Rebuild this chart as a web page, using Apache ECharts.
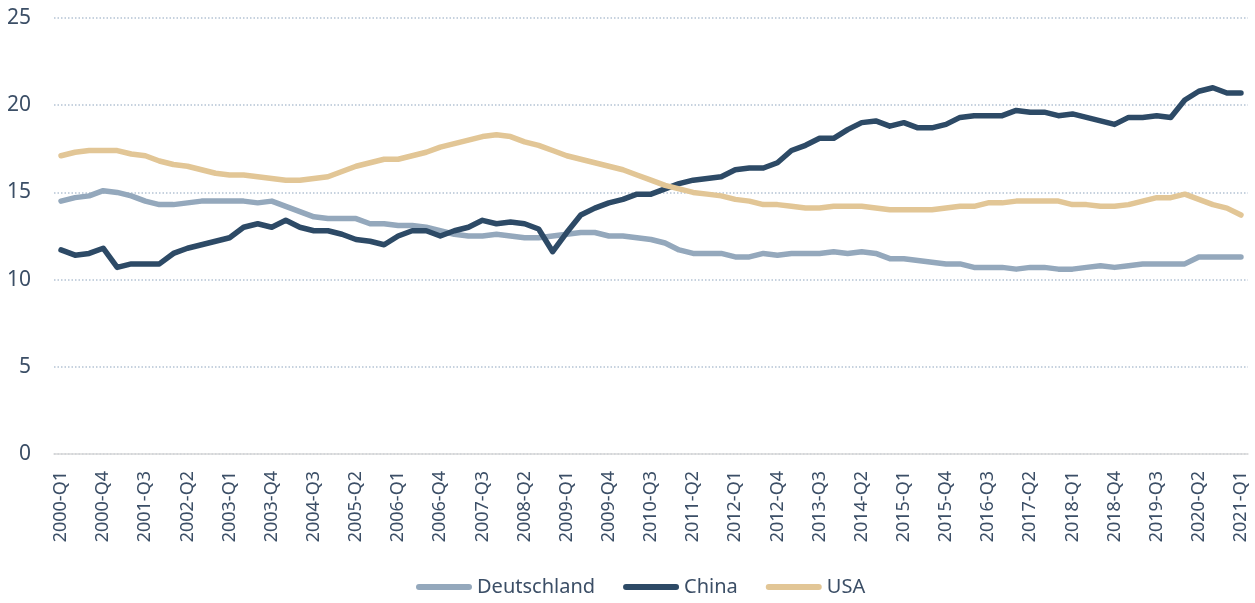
<!DOCTYPE html>
<html>
<head>
<meta charset="utf-8">
<script src="https://cdn.jsdelivr.net/npm/echarts@6/dist/echarts.min.js"></script>
<style>
  html, body { margin: 0; padding: 0; background: #fff; }
  #chart { width: 1255px; height: 603px; }
</style>
</head>
<body>
<div id="chart"></div>
<script>
// Quartale 2000-Q1 .. 2021-Q1
const quarters = [];
for (let y = 2000; y <= 2021; y++) {
  for (let q = 1; q <= 4; q++) {
    if (y === 2021 && q > 1) break;
    quarters.push(y + '-Q' + q);
  }
}

const deutschland = [
  14.5, 14.7, 14.8, 15.1, 15.0, 14.8, 14.5, 14.3, 14.3, 14.4,
  14.5, 14.5, 14.5, 14.5, 14.4, 14.5, 14.2, 13.9, 13.6, 13.5,
  13.5, 13.5, 13.2, 13.2, 13.1, 13.1, 13.0, 12.8, 12.6, 12.5,
  12.5, 12.6, 12.5, 12.4, 12.4, 12.5, 12.6, 12.7, 12.7, 12.5,
  12.5, 12.4, 12.3, 12.1, 11.7, 11.5, 11.5, 11.5, 11.3, 11.3,
  11.5, 11.4, 11.5, 11.5, 11.5, 11.6, 11.5, 11.6, 11.5, 11.2,
  11.2, 11.1, 11.0, 10.9, 10.9, 10.7, 10.7, 10.7, 10.6, 10.7,
  10.7, 10.6, 10.6, 10.7, 10.8, 10.7, 10.8, 10.9, 10.9, 10.9,
  10.9, 11.3, 11.3, 11.3, 11.3
];

const china = [
  11.7, 11.4, 11.5, 11.8, 10.7, 10.9, 10.9, 10.9, 11.5, 11.8,
  12.0, 12.2, 12.4, 13.0, 13.2, 13.0, 13.4, 13.0, 12.8, 12.8,
  12.6, 12.3, 12.2, 12.0, 12.5, 12.8, 12.8, 12.5, 12.8, 13.0,
  13.4, 13.2, 13.3, 13.2, 12.9, 11.6, 12.7, 13.7, 14.1, 14.4,
  14.6, 14.9, 14.9, 15.2, 15.5, 15.7, 15.8, 15.9, 16.3, 16.4,
  16.4, 16.7, 17.4, 17.7, 18.1, 18.1, 18.6, 19.0, 19.1, 18.8,
  19.0, 18.7, 18.7, 18.9, 19.3, 19.4, 19.4, 19.4, 19.7, 19.6,
  19.6, 19.4, 19.5, 19.3, 19.1, 18.9, 19.3, 19.3, 19.4, 19.3,
  20.3, 20.8, 21.0, 20.7, 20.7
];

const usa = [
  17.1, 17.3, 17.4, 17.4, 17.4, 17.2, 17.1, 16.8, 16.6, 16.5,
  16.3, 16.1, 16.0, 16.0, 15.9, 15.8, 15.7, 15.7, 15.8, 15.9,
  16.2, 16.5, 16.7, 16.9, 16.9, 17.1, 17.3, 17.6, 17.8, 18.0,
  18.2, 18.3, 18.2, 17.9, 17.7, 17.4, 17.1, 16.9, 16.7, 16.5,
  16.3, 16.0, 15.7, 15.4, 15.2, 15.0, 14.9, 14.8, 14.6, 14.5,
  14.3, 14.3, 14.2, 14.1, 14.1, 14.2, 14.2, 14.2, 14.1, 14.0,
  14.0, 14.0, 14.0, 14.1, 14.2, 14.2, 14.4, 14.4, 14.5, 14.5,
  14.5, 14.5, 14.3, 14.3, 14.2, 14.2, 14.3, 14.5, 14.7, 14.7,
  14.9, 14.6, 14.3, 14.1, 13.7
];

const TEXT_COLOR = '#3b4e66';
const FONT = '"Noto Sans", "Open Sans", sans-serif';
// Legenden-Symbol: abgerundeter Balken wie die Linienenden
const PILL = 'path://M3,0 L53,0 A3,3 0 0 1 53,6 L3,6 A3,3 0 0 1 3,0 Z';

const lineSeries = (name, data, color) => ({
  name,
  type: 'line',
  data,
  symbol: 'none',
  smooth: false,
  lineStyle: { width: 5.5, color, cap: 'round', join: 'round' },
  itemStyle: { color },
});

const chart = echarts.init(document.getElementById('chart'), null, { renderer: 'canvas' });
chart.setOption({
  animation: false,
  textStyle: { fontFamily: FONT },
  grid: { left: 54, right: 7, top: 18, bottom: 149, containLabel: false },
  legend: {
    bottom: 1,
    left: 411,
    icon: PILL,
    itemWidth: 56,
    itemHeight: 6,
    itemGap: 28,
    textStyle: { fontSize: 20, color: TEXT_COLOR, fontFamily: FONT },
    data: ['Deutschland', 'China', 'USA'],
  },
  xAxis: {
    type: 'category',
    data: quarters,
    boundaryGap: true,
    axisLine: { lineStyle: { color: '#d9d9d9', width: 1.5 } },
    axisTick: { show: false },
    axisLabel: {
      interval: 2,
      rotate: 90,
      margin: 17,
      fontSize: 18,
      color: TEXT_COLOR,
      fontFamily: FONT,
    },
    splitLine: { show: false },
  },
  yAxis: {
    type: 'value',
    min: 0,
    max: 25,
    interval: 5,
    axisLine: { show: false },
    axisTick: { show: false },
    axisLabel: { margin: 23, fontSize: 21, color: TEXT_COLOR, fontFamily: FONT },
    splitLine: { show: true, lineStyle: { color: '#b4c3d4', width: 1.5, type: [1.5, 2] } },
  },
  series: [
    lineSeries('Deutschland', deutschland, '#94a8bc'),
    lineSeries('China', china, '#2d4a66'),
    lineSeries('USA', usa, '#e2c696'),
  ],
});
</script>
</body>
</html>
